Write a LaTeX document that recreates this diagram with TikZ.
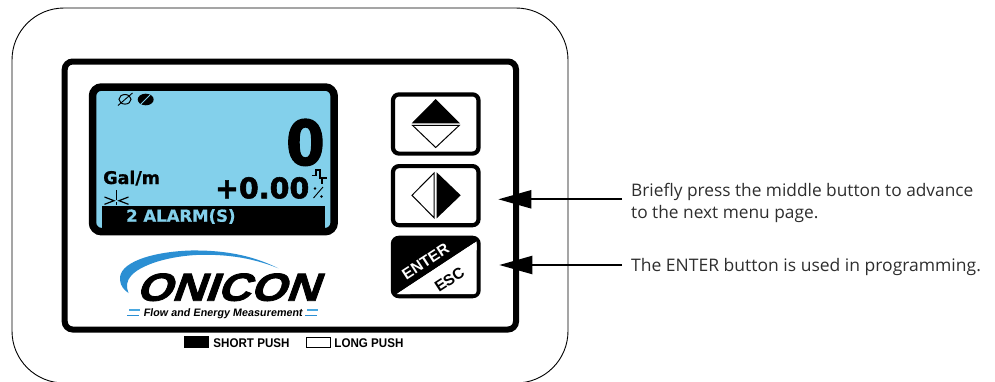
\documentclass[tikz,border=0pt]{standalone}
\usepackage{fontspec}
\setmainfont{Open Sans}
\newfontfamily\hel{Liberation Sans}
\newfontfamily\dej{DejaVu Sans}
\newfontfamily\dejheavy[FakeBold=2]{DejaVu Sans Bold}
\newfontfamily\dejmid[FakeBold=0.8]{DejaVu Sans Bold}
\newfontfamily\logofont[FakeStretch=1.17,FakeSlant=0.36,FakeBold=2.2]{Liberation Sans Bold}
\newfontfamily\tagfont[FakeSlant=0.15]{Liberation Sans Bold}
\usetikzlibrary{arrows.meta}
\definecolor{lcd}{HTML}{83D0EB}
\definecolor{onblue}{HTML}{2B8FD3}
\definecolor{ondash}{HTML}{4AA8E0}
\tikzset{
  panel/.style={draw=black,line width=6pt,rounded corners=8pt},
  keybox/.style={draw=black,line width=4.2pt,rounded corners=6pt,fill=white},
  callout/.style={draw=black,line width=2.2pt,-{Triangle[length=33pt,width=18pt]}},
  note/.style={anchor=base west,font=\fontsize{17.3}{20}\selectfont,text=black!82,inner sep=0pt},
  legendtext/.style={anchor=base west,inner sep=0pt,xscale=.92,font=\hel\bfseries\fontsize{12.6}{12}\selectfont},
  lcdtext/.style={inner sep=0pt},
  keytext/.style={rotate=33,inner sep=0pt,font=\hel\bfseries\fontsize{15.5}{15}\selectfont},
}
\begin{document}
\begin{tikzpicture}[x=1pt,y=-1pt]
\useasboundingbox (0,0) rectangle (995,381);
\draw[line width=.9pt,rounded corners=52pt] (12,8) rectangle (568,383);
\draw[panel] (64.7,61.5) rectangle (516,329.5);
% LCD
\draw[draw=black,fill=lcd,line width=7.5pt,rounded corners=9pt] (92.5,87) rectangle (334.2,231.7);
\node[lcdtext,anchor=base east,xscale=.9,font=\dejheavy\fontsize{62}{62}\selectfont] (val) at (325,165) {0};
\node[lcdtext,anchor=base west,font=\dejmid\fontsize{17.5}{18}\selectfont] (unit) at (103,184) {Gal/m};
\node[lcdtext,anchor=base east,font=\dejheavy\fontsize{28.5}{28}\selectfont] (rate) at (309.5,198.3) {+0.00};
\fill[black] (101.7,205.7) rectangle (325,227.7);
\node[lcdtext,anchor=base west,text=lcd,font=\dejmid\fontsize{16.5}{16}\selectfont] (alarm) at (126,221.7) {2 ALARM(S)};
% status icons
\draw[line width=1pt] (125,99.3) ellipse (6 and 4.8);
\draw[line width=.9pt] (118,105.5) -- (132.5,93);
\fill (145.7,99.5) ellipse (8 and 5.8);
\draw[lcd,line width=.9pt] (141,104) -- (150,95);
\draw[line width=1.2pt] (104.5,197) -- (114,200.7) -- (104.5,204.3) (128.5,197) -- (119,200.7) -- (128.5,204.3);
\draw[line width=1.5pt] (116.5,190) -- (116.5,200) (116.5,202.3) -- (116.5,205);
% pulse icon
\draw[line width=1.6pt] (311.5,175.5) -- (316,175.5) -- (316,170) -- (320,170) -- (320,179) (320,178) -- (326.5,178) (322,178) -- (322,184);
\draw[line width=.9pt] (313.5,198) -- (323,187);
\fill (315,188.5) circle (1.3) (321.5,196.5) circle (1.3);
% Keys
\draw[keybox] (393,94.4) rectangle (478.5,153.6);
\fill (411.7,123.3) -- (435.7,99) -- (460,123.3) -- cycle;
\draw[line width=1pt,line join=miter] (412.5,125.3) -- (435.7,147.5) -- (459.3,125.3) -- cycle;
\draw[keybox] (393,166.1) rectangle (478.5,225.2);
\draw[line width=1pt] (434,173) -- (412,195.3) -- (434,217.7) -- cycle;
\fill (436.7,172.3) -- (460.7,195.3) -- (436.7,218.3) -- cycle;
\fill[black,rounded corners=8pt] (390.8,235.7) rectangle (480.7,298.3);
\fill[white,rounded corners=3pt] (396.5,294.2) -- (476.6,241.5) -- (476.6,294.2) -- cycle;
\fill[white] (396.5,294.2) -- (476.6,241.5) -- (476.6,250) -- (410,294.2) -- cycle;
\node[keytext,text=white] (enter) at (425.5,261.3) {ENTER};
\node[keytext] (esc) at (449.5,279.5) {ESC};
% Logo
\fill[onblue] (278.3,268.3) .. controls (250,254) and (220,250) .. (190,250.5)
  .. controls (150,252) and (118,263) .. (120,280) .. controls (120.5,286) and (124,290) .. (128.5,293)
  .. controls (123,280) and (132,270) .. (156,262) .. controls (175,256) and (195,254.5) .. (208,254.8)
  .. controls (235,255) and (258,260) .. (278.3,268.3) -- cycle;
\node[anchor=base,inner sep=0pt,font=\logofont\fontsize{39}{39}\selectfont] (logo) at (227,300.7) {ONICON};
\node[anchor=base,inner sep=0pt,font=\tagfont\fontsize{10.8}{11}\selectfont] (tag) at (222.8,316) {Flow and Energy Measurement};
\draw[ondash,line width=1.1pt] (129.3,310) -- (140,310) (307.3,310) -- (318,310);
\draw[onblue,line width=1.1pt] (127.3,315.7) -- (139.3,315.7) (305,315.7) -- (316.7,315.7);
% Legend
\fill (184.3,336) rectangle (209.3,348.3);
\node[legendtext] (sp) at (213.3,347.3) {SHORT PUSH};
\draw[line width=1pt] (306.5,337) rectangle (330.3,347.8);
\node[legendtext] (lp) at (334.3,347.3) {LONG PUSH};
% Notes
\node[note] (n1) at (631,196.5) {Briefly press the middle button to advance};
\node[note] (n2) at (631,218.7) {to the next menu page.};
\node[note,xscale=1.012] (n3) at (631,271.5) {The ENTER button is used in programming.};
\coordinate (t1) at (498.3,199.3);
\coordinate (t2) at (499.3,265);
\coordinate (s1) at (622,199.3);
\coordinate (s2) at (622,265);
\draw[callout] (s1) -- (t1);
\draw[callout] (s2) -- (t2);
\end{tikzpicture}
\end{document}
